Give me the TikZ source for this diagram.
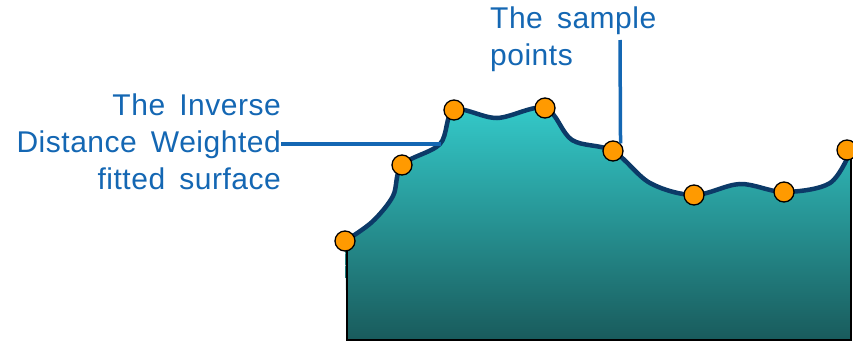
\documentclass[tikz,border=0pt]{standalone}
\usepackage{fontspec}
\setmainfont[WordSpace=1.6,LetterSpace=1.7]{Liberation Sans}
\usepackage{tikz}
\usetikzlibrary{positioning,calc}
\definecolor{labelblue}{HTML}{1467B3}
\definecolor{edgenavy}{HTML}{0C3A68}
\definecolor{surftop}{HTML}{34CACA}
\definecolor{surfbot}{HTML}{195B5C}
\definecolor{ptorange}{HTML}{FF9A00}

\begin{document}
\begin{tikzpicture}[x=1pt,y=-1pt,every node/.style={font=\fontsize{30}{37}\selectfont,text=labelblue},pt/.style={circle,draw=black,line width=1.3pt,fill=ptorange,minimum size=20pt,inner sep=0pt},leader/.style={draw=labelblue,line width=3.5pt}]
\useasboundingbox (0,0) rectangle (853,343);
% fitted surface
\shade[top color=surftop,bottom color=surfbot] (347,340) -- plot[smooth,tension=0.55] coordinates {(345,241) (372,222) (393,196) (402,165) (440,144) (454,110) (497,118) (545,108) (572,140) (613,151) (650,183) (694,195) (740,184) (784,192) (830,183) (851,150)} -- (851,340) -- cycle;
\draw[edgenavy,line width=4.5pt,line cap=round] plot[smooth,tension=0.55] coordinates {(345,241) (372,222) (393,196) (402,165) (440,144) (454,110) (497,118) (545,108) (572,140) (613,151) (650,183) (694,195) (740,184) (784,192) (830,183) (851,150)};
\draw[black,line width=2pt] (347,241) -- (347,340) -- (851,340) -- (851,150);
% sample points
\node[pt] (s1) at (345,241) {};
\node[pt] (s2) at (402,165) {};
\node[pt] (s3) at (454,110) {};
\node[pt] (s4) at (545,108) {};
\node[pt] (s5) at (613,151) {};
\node[pt] (s6) at (694,195) {};
\node[pt] (s7) at (784,192) {};
\node[pt] (s8) at (847,150) {};
% labels
\node[align=right,anchor=east,inner sep=0pt] (idw) at (281,142) {The Inverse\\Distance Weighted\\fitted surface};
\node[align=left,anchor=north west,inner sep=0pt] (samp) at (490,7) {The sample\\points};
\coordinate (onsurf) at (441,144);
\coordinate (ptop) at (620,40);
\draw[leader] (idw.east |- onsurf) -- (onsurf);
\draw[leader] (ptop) -- (s5.45);
\end{tikzpicture}
\end{document}
